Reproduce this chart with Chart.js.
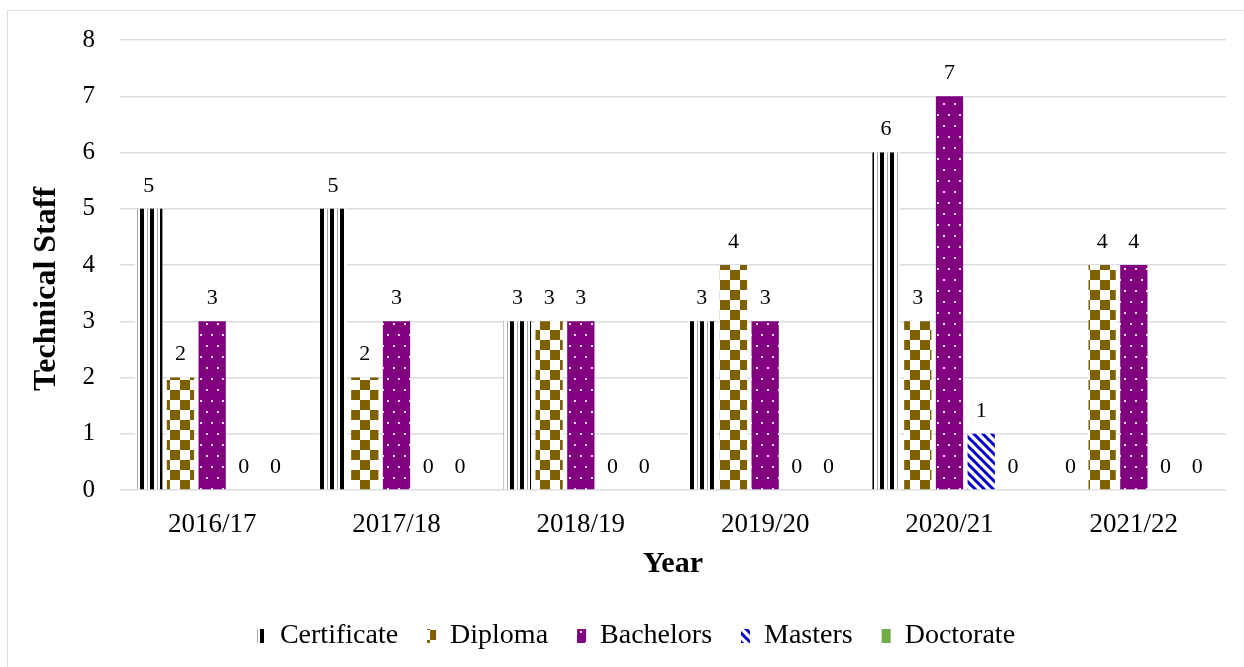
<!DOCTYPE html>
<html>
<head>
<meta charset="utf-8">
<script src="https://cdn.jsdelivr.net/npm/chart.js@4/dist/chart.umd.min.js"></script>
<style>
  html, body { margin: 0; padding: 0; background: #fff; }
  #frame { position: absolute; left: 7px; top: 10px; width: 1250px; height: 670px;
           border-left: 1px solid #d9dee5; border-top: 1px solid #d9dee5; }
  #chart { position: absolute; left: 0; top: 0; }
</style>
</head>
<body>
<div id="frame"></div>
<canvas id="chart" width="1244" height="667"></canvas>
<script>
const years = ['2016/17', '2017/18', '2018/19', '2019/20', '2020/21', '2021/22'];
const certificate = [5, 5, 3, 3, 6, 0];
const diploma = [2, 2, 3, 4, 3, 4];
const bachelors = [3, 3, 3, 3, 7, 4];
const masters = [0, 0, 0, 0, 1, 0];
const doctorate = [0, 0, 0, 0, 0, 0];

const FONT = "'Liberation Serif', 'Times New Roman', serif";

// small tiles used as bar fills
function tile(w, h, draw) {
  const c = document.createElement('canvas');
  c.width = w; c.height = h;
  draw(c.getContext('2d'));
  return document.getElementById('chart').getContext('2d').createPattern(c, 'repeat');
}

const stripes = tile(10, 10, g => {
  g.fillStyle = '#fff'; g.fillRect(0, 0, 10, 10);
  g.fillStyle = '#000'; g.fillRect(0, 0, 4, 10);
  g.fillStyle = '#aaa'; g.fillRect(7, 0, 1, 10);
});
const checker = tile(20, 20, g => {
  g.fillStyle = '#fff'; g.fillRect(0, 0, 20, 20);
  g.fillStyle = '#7f6000';
  g.fillRect(0, 0, 10, 10); g.fillRect(10, 10, 10, 10);
});
const dots = tile(11, 22, g => {
  g.fillStyle = '#800080'; g.fillRect(0, 0, 11, 22);
  g.fillStyle = '#f3d6f3';
  g.fillRect(2, 4, 2, 2); g.fillRect(8, 15, 2, 2);
});
const diag = tile(9, 9, g => {
  g.fillStyle = '#fff'; g.fillRect(0, 0, 9, 9);
  g.strokeStyle = '#0000c8'; g.lineWidth = 3;
  g.beginPath();
  g.moveTo(-2, -2); g.lineTo(11, 11);
  g.moveTo(-2, 7); g.lineTo(2, 11);
  g.moveTo(7, -2); g.lineTo(11, 2);
  g.stroke();
});

// value labels above every bar
const valueLabels = {
  id: 'valueLabels',
  afterDatasetsDraw(chart) {
    const ctx = chart.ctx;
    ctx.save();
    ctx.font = '22px ' + FONT;
    ctx.fillStyle = '#000';
    ctx.textAlign = 'center';
    ctx.textBaseline = 'middle';
    chart.data.datasets.forEach((ds, i) => {
      chart.getDatasetMeta(i).data.forEach((bar, j) => {
        ctx.fillText(String(ds.data[j]), bar.x, bar.y - 23);
      });
    });
    ctx.restore();
  }
};

const makeSet = (label, data, fill) => ({
  label, data,
  backgroundColor: fill,
  borderWidth: 0,
  categoryPercentage: 0.86,
  barPercentage: 0.86
});

new Chart(document.getElementById('chart'), {
  type: 'bar',
  data: {
    labels: years,
    datasets: [
      makeSet('Certificate', certificate, stripes),
      makeSet('Diploma', diploma, checker),
      makeSet('Bachelors', bachelors, dots),
      makeSet('Masters', masters, diag),
      makeSet('Doctorate', doctorate, '#70ad47')
    ]
  },
  options: {
    responsive: false,
    animation: false,
    layout: { padding: { left: 46, top: 38, right: 18, bottom: 7 } },
    plugins: {
      tooltip: { enabled: false },
      legend: {
        position: 'bottom',
        labels: {
          font: { family: FONT, size: 28 },
          color: '#000',
          boxWidth: 9,
          boxHeight: 14,
          padding: 8,
          generateLabels(chart) {
            const items = Chart.defaults.plugins.legend.labels.generateLabels(chart);
            items.forEach((it, k) => { if (k < items.length - 1) it.text += '   '; });
            return items;
          }
        }
      }
    },
    scales: {
      y: {
        min: 0, max: 8,
        ticks: { stepSize: 1, color: '#000', font: { family: FONT, size: 25 }, padding: 25 },
        grid: { color: '#d9dee5', lineWidth: 1.5, drawTicks: false },
        border: { display: false },
        title: { display: true, text: 'Technical Staff      ', color: '#000',
                 font: { family: FONT, size: 32, weight: 'bold' }, padding: { top: -18, bottom: 0 } },
        afterFit(scale) { scale.width = 74; }
      },
      x: {
        ticks: { color: '#000', font: { family: FONT, size: 27 }, padding: 11 },
        grid: { display: false },
        border: { display: false },
        title: { display: true, text: 'Year', color: '#000',
                 font: { family: FONT, size: 30, weight: 'bold' }, padding: { top: 0, bottom: 32 } },
        afterFit(scale) { scale.height = 124; }
      }
    }
  },
  plugins: [valueLabels]
});
</script>
</body>
</html>
